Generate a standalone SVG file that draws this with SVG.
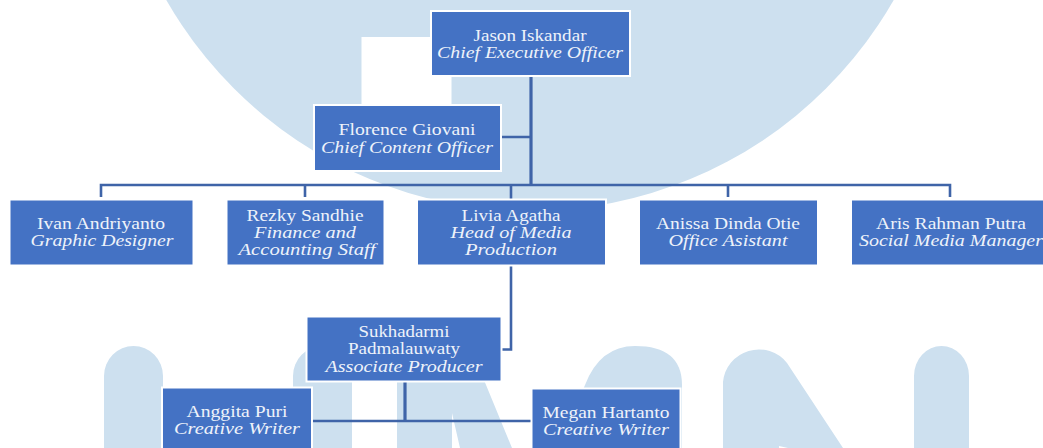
<svg xmlns="http://www.w3.org/2000/svg" width="1043" height="448" viewBox="0 0 1043 448">
<style>
.wm{fill:#cde0ef}
.box{fill:#4472c4;stroke:#fff;stroke-width:2}
.ln{fill:none;stroke:#3f64a8;stroke-width:2.6}
.th{stroke-width:3.2}
text{font-family:"Liberation Serif","Times New Roman",serif;font-size:17px;fill:#eef2fa;text-anchor:middle}
.r{font-style:italic}
</style>
<rect width="1043" height="448" fill="#fff"/>
<g id="watermark">
<circle class="wm" cx="530" cy="-208" r="419"/>
<rect x="361.500" y="37" width="90" height="110" fill="#fff"/>
<path class="wm" d="M104 448V376a29.500 30 0 0 1 59 0V448ZM293 448V376a29.500 30 0 0 1 59 0V448Z"/>
<path class="wm" d="M397 448V376a30 30 0 0 1 30-30H470L512 448H460L452 413V448Z"/>
<path class="wm" d="M558 448L585 385Q600 346 635 346Q682 346 682 385V448Z"/>
<path class="wm" d="M723 448V382a36 36 0 0 1 64-19L843 448H788L779 446V448Z"/>
<path class="wm" d="M914 448V376a27.500 30 0 0 1 55 0V448Z"/>
</g>
<g id="connectors">
<path class="ln th" d="M531 76V185"/>
<path class="ln" d="M531 137H501M101 197V185H950V197M305 185V197M511 185V199M728 185V197"/>
<path class="ln" d="M511 266V349.500H502"/>
<path class="ln th" d="M405 382V421"/>
<path class="ln" d="M312 421H531"/>
</g>
<g id="jason"><rect class="box" x="431" y="11" width="199" height="65"/><text x="530" y="41" textLength="113" lengthAdjust="spacingAndGlyphs">Jason Iskandar</text><text class="r" x="530" y="58" textLength="186" lengthAdjust="spacingAndGlyphs">Chief Executive Officer</text></g>
<g id="florence"><rect class="box" x="314" y="105" width="187" height="66"/><text x="407" y="135" textLength="137" lengthAdjust="spacingAndGlyphs">Florence Giovani</text><text class="r" x="407" y="153" textLength="172" lengthAdjust="spacingAndGlyphs">Chief Content Officer</text></g>
<g id="ivan"><rect class="box" x="9.500" y="199.500" width="184" height="66"/><text x="101" y="229" textLength="128" lengthAdjust="spacingAndGlyphs">Ivan Andriyanto</text><text class="r" x="102" y="246" textLength="143" lengthAdjust="spacingAndGlyphs">Graphic Designer</text></g>
<g id="rezky"><rect class="box" x="226.500" y="199.500" width="158" height="66"/><text x="305" y="221" textLength="117" lengthAdjust="spacingAndGlyphs">Rezky Sandhie</text><text class="r" x="305" y="238" textLength="102" lengthAdjust="spacingAndGlyphs">Finance and</text><text class="r" x="307" y="255" textLength="137" lengthAdjust="spacingAndGlyphs">Accounting Staff</text></g>
<g id="livia"><rect class="box" x="417" y="199.500" width="189" height="66"/><text x="511" y="221" textLength="99" lengthAdjust="spacingAndGlyphs">Livia Agatha</text><text class="r" x="511" y="238" textLength="121" lengthAdjust="spacingAndGlyphs">Head of Media</text><text class="r" x="511" y="255" textLength="92" lengthAdjust="spacingAndGlyphs">Production</text></g>
<g id="anissa"><rect class="box" x="639" y="199.500" width="179" height="66"/><text x="728" y="229" textLength="144" lengthAdjust="spacingAndGlyphs">Anissa Dinda Otie</text><text class="r" x="728" y="246" textLength="119" lengthAdjust="spacingAndGlyphs">Office Asistant</text></g>
<g id="aris"><rect class="box" x="851" y="199.500" width="194" height="66"/><text x="951" y="229" textLength="150" lengthAdjust="spacingAndGlyphs">Aris Rahman Putra</text><text class="r" x="951" y="246" textLength="184" lengthAdjust="spacingAndGlyphs">Social Media Manager</text></g>
<g id="sukhadarmi"><rect class="box" x="306.500" y="316.500" width="195" height="65"/><text x="404" y="337" textLength="91" lengthAdjust="spacingAndGlyphs">Sukhadarmi</text><text x="404" y="354" textLength="112" lengthAdjust="spacingAndGlyphs">Padmalauwaty</text><text class="r" x="404" y="372" textLength="157" lengthAdjust="spacingAndGlyphs">Associate Producer</text></g>
<g id="anggita"><rect class="box" x="162" y="387.500" width="150" height="70"/><text x="237" y="417" textLength="101" lengthAdjust="spacingAndGlyphs">Anggita Puri</text><text class="r" x="237" y="434" textLength="126" lengthAdjust="spacingAndGlyphs">Creative Writer</text></g>
<g id="megan"><rect class="box" x="531.500" y="388.500" width="149" height="70"/><text x="606" y="418" textLength="127" lengthAdjust="spacingAndGlyphs">Megan Hartanto</text><text class="r" x="606" y="435" textLength="126" lengthAdjust="spacingAndGlyphs">Creative Writer</text></g>
</svg>
